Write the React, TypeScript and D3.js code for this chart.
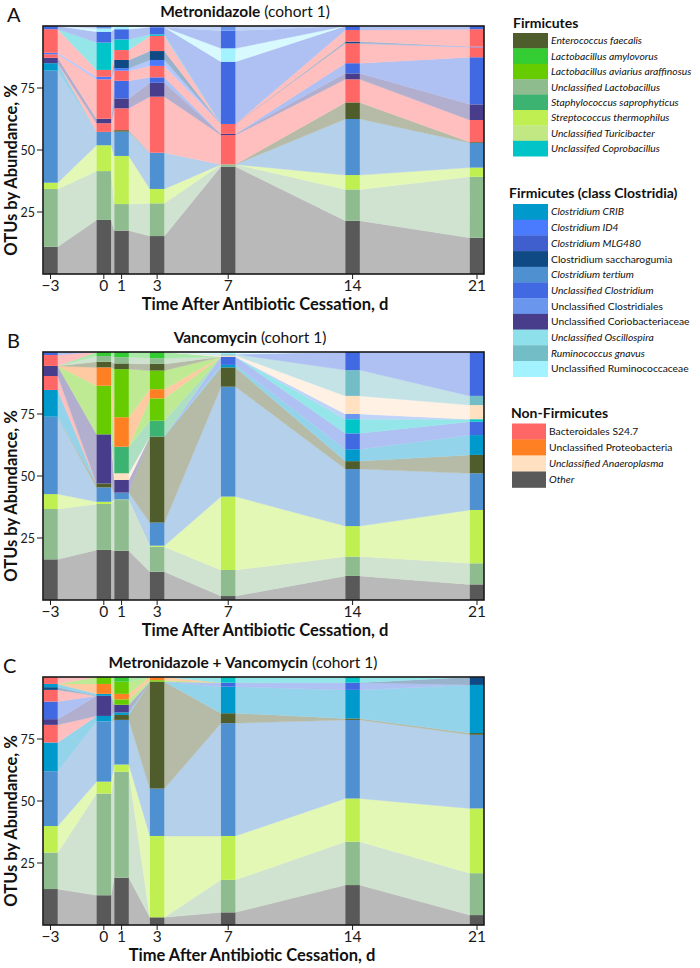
import React from "react";
import * as d3 from "d3";

const days = [-3, 0, 1, 3, 7, 14, 21];

// legend groups (names as printed)
const firmicutes = [
  "Enterococcus faecalis",
  "Lactobacillus amylovorus",
  "Lactobacillus aviarius araffinosus",
  "Unclassified Lactobacillus",
  "Staphylococcus saprophyticus",
  "Streptococcus thermophilus",
  "Unclassified Turicibacter",
  "Unclassifed Coprobacillus",
];
const clostridia = [
  "Clostridium CRIB",
  "Clostridium ID4",
  "Clostridium MLG480",
  "Clostridium saccharogumia",
  "Clostridium tertium",
  "Unclassified Clostridium",
  "Unclassified Clostridiales",
  "Unclassified Coriobacteriaceae",
  "Unclassified Oscillospira",
  "Ruminococcus gnavus",
  "Unclassified Ruminococcaceae",
];
const nonFirmicutes = [
  "Bacteroidales S24.7",
  "Unclassified Proteobacteria",
  "Unclassified Anaeroplasma",
  "Other",
];
const uprightNames = [
  "Clostridium saccharogumia",
  "Unclassified Clostridiales",
  "Unclassified Coriobacteriaceae",
  "Unclassified Ruminococcaceae",
  "Bacteroidales S24.7",
  "Unclassified Proteobacteria",
];

const colorOf: Record<string, string> = {
  "Enterococcus faecalis": "#4e5d2b",
  "Lactobacillus amylovorus": "#33cc33",
  "Lactobacillus aviarius araffinosus": "#66cc00",
  "Unclassified Lactobacillus": "#8fbc8f",
  "Staphylococcus saprophyticus": "#3cb371",
  "Streptococcus thermophilus": "#bfef50",
  "Unclassified Turicibacter": "#c2e884",
  "Unclassifed Coprobacillus": "#00c4c8",
  "Clostridium CRIB": "#0099cc",
  "Clostridium ID4": "#4a7bff",
  "Clostridium MLG480": "#3f5fcf",
  "Clostridium saccharogumia": "#0f4a85",
  "Clostridium tertium": "#4f90d0",
  "Unclassified Clostridium": "#4169e1",
  "Unclassified Clostridiales": "#6a96ee",
  "Unclassified Coriobacteriaceae": "#483d8b",
  "Unclassified Oscillospira": "#8ee0ea",
  "Ruminococcus gnavus": "#72bdc6",
  "Unclassified Ruminococcaceae": "#a2f2ff",
  "Bacteroidales S24.7": "#ff6666",
  "Unclassified Proteobacteria": "#ff8022",
  "Unclassified Anaeroplasma": "#ffe0c0",
  Other: "#595959",
};

type Layer = [string, number[]];

// stacked bottom -> top, % per day (-3,0,1,3,7,14,21); same taxon can be several OTUs
const metroLayers: Layer[] = [
  ["Other", [11, 21.8, 17.5, 15.3, 43.3, 21.5, 14.6]],
  ["Unclassified Lactobacillus", [23.3, 19.7, 10.7, 13.2, 0.9, 12.6, 24.6]],
  ["Streptococcus thermophilus", [2.5, 10.4, 19.4, 5.8, 0, 5.8, 3.7]],
  ["Clostridium tertium", [45.2, 5.4, 9.8, 14.6, 0, 22.6, 10.0]],
  ["Enterococcus faecalis", [0, 0, 0.6, 0, 0, 6.7, 0.3]],
  ["Clostridium CRIB", [3, 0, 0, 0, 0, 0, 0]],
  ["Bacteroidales S24.7", [0, 3.5, 8.8, 22.6, 11.8, 9.3, 8.9]],
  ["Unclassified Coriobacteriaceae", [2.2, 1.8, 4.0, 5.6, 0.5, 2.4, 6.3]],
  ["Unclassified Clostridium", [0, 0, 7.1, 2.2, 0, 4.1, 19.0]],
  ["Bacteroidales S24.7", [1.4, 15.9, 4.1, 4.6, 4.0, 8.0, 4.0]],
  ["Clostridium ID4", [0.6, 1.0, 1.0, 2.4, 0, 0, 0.3]],
  ["Clostridium saccharogumia", [0, 0, 3.3, 3.6, 0, 0.7, 0]],
  ["Bacteroidales S24.7", [9.5, 2.8, 4.0, 6.1, 0, 4.7, 7.0]],
  ["Unclassifed Coprobacillus", [0, 11.0, 4.3, 0.6, 0, 0, 0]],
  ["Unclassified Clostridium", [1.3, 4.4, 4.1, 2.9, 25.1, 1.6, 1.3]],
  ["Unclassified Ruminococcaceae", [0, 1.3, 1.3, 0, 5.4, 0, 0]],
  ["Unclassified Clostridium", [0, 0, 0, 0, 7.1, 0, 0]],
  ["Unclassified Clostridiales", [0, 1.0, 0, 0.5, 1.9, 0, 0]],
];

const vancoLayers: Layer[] = [
  ["Other", [16.4, 20.2, 19.9, 11.4, 1.6, 9.7, 6.3]],
  ["Unclassified Lactobacillus", [20.3, 18.5, 20.4, 10.1, 10.5, 7.8, 8.5]],
  ["Streptococcus thermophilus", [6.0, 0.9, 0.2, 0.4, 29.6, 12.3, 21.5]],
  ["Clostridium tertium", [31.2, 5.8, 2.8, 9.3, 44.3, 23.0, 14.8]],
  ["Enterococcus faecalis", [0, 1.6, 0, 34.7, 7.8, 3.2, 7.4]],
  ["Clostridium CRIB", [10.8, 0, 0, 0, 1.0, 4.8, 8.0]],
  ["Unclassified Clostridium", [0, 0, 0, 0, 3.3, 6.4, 5.4]],
  ["Bacteroidales S24.7", [5.6, 0, 0, 0, 0, 0, 0]],
  ["Unclassified Coriobacteriaceae", [4.1, 19.8, 5.1, 0, 0, 0, 0]],
  ["Unclassified Anaeroplasma", [0, 0, 2.7, 0, 0, 0, 0]],
  ["Staphylococcus saprophyticus", [0, 0, 10.7, 6.4, 0, 0, 0]],
  ["Lactobacillus aviarius araffinosus", [0, 19.6, 0, 9.0, 0, 0, 0]],
  ["Unclassified Proteobacteria", [0, 7.4, 11.9, 3.7, 0, 0, 0]],
  ["Lactobacillus aviarius araffinosus", [0, 0, 19.4, 7.5, 0, 0, 0]],
  ["Enterococcus faecalis", [0, 2.3, 2.3, 2.7, 0, 0, 0]],
  ["Unclassified Lactobacillus", [0, 2.3, 2.5, 2.3, 0, 0, 0]],
  ["Lactobacillus amylovorus", [0, 1.6, 2.1, 2.5, 0, 0, 0]],
  ["Unclassifed Coprobacillus", [0, 0, 0, 0, 0, 5.7, 1.0]],
  ["Unclassified Clostridiales", [0, 0, 0, 0, 0, 2.1, 0]],
  ["Unclassified Anaeroplasma", [0, 0, 0, 0, 0.5, 7.3, 5.7]],
  ["Ruminococcus gnavus", [0, 0, 0, 0, 0.5, 10.4, 3.7]],
  ["Bacteroidales S24.7", [4.4, 0, 0, 0, 0, 0, 0]],
  ["Unclassified Clostridium", [1.2, 0, 0, 0, 0, 7.3, 17.7]],
  ["Unclassified Ruminococcaceae", [0, 0, 0, 0, 0.9, 0, 0]],
];

const comboLayers: Layer[] = [
  ["Other", [14.5, 12.0, 19.1, 3.1, 5.1, 16.1, 4.0]],
  ["Unclassified Lactobacillus", [14.7, 41.0, 42.7, 0, 13.1, 17.5, 16.9]],
  ["Streptococcus thermophilus", [10.7, 4.8, 2.9, 32.8, 17.7, 17.4, 26.1]],
  ["Clostridium tertium", [22.1, 24.3, 18.0, 19.1, 45.5, 31.7, 29.7]],
  ["Enterococcus faecalis", [0, 0, 2.0, 43.1, 4.0, 0.6, 0.7]],
  ["Clostridium CRIB", [11.6, 2.2, 1.0, 0, 10.7, 11.5, 19.4]],
  ["Bacteroidales S24.7", [7.1, 0, 0, 0, 0, 0, 0]],
  ["Unclassified Coriobacteriaceae", [2.3, 8.1, 3.1, 0, 0, 0, 0]],
  ["Unclassified Clostridium", [7.1, 0, 0, 0, 1.6, 2.9, 0]],
  ["Bacteroidales S24.7", [4.7, 0, 0, 0, 0, 0, 0]],
  ["Clostridium saccharogumia", [1.1, 0, 0, 0, 0, 0, 3.2]],
  ["Clostridium CRIB", [1.3, 0.8, 0, 0, 0, 0, 0]],
  ["Lactobacillus aviarius araffinosus", [0, 0, 2.2, 0.6, 0, 0, 0]],
  ["Unclassified Proteobacteria", [0, 4.0, 2.2, 1.3, 0, 0, 0]],
  ["Lactobacillus aviarius araffinosus", [0, 2.8, 4.9, 0, 0, 0, 0]],
  ["Lactobacillus amylovorus", [0, 0, 1.9, 0, 0, 0, 0]],
  ["Unclassifed Coprobacillus", [0, 0, 0, 0, 2.3, 2.3, 0]],
  ["Bacteroidales S24.7", [2.8, 0, 0, 0, 0, 0, 0]],
];

const FONT = "Lato, 'Open Sans', sans-serif";
const plotLeft = 43;
const plotRight = 484;
const plotH = 248;
const barW = 14.5;

type PanelProps = {
  id: string;
  layers: Layer[];
  top: number;
  letter: string;
  letterX: number;
  titleBold: string;
  titleX: number;
  xLabelX: number;
};

function Panel({ id, layers, top, letter, letterX, titleBold, titleX, xLabelX }: PanelProps) {
  const bottom = top + plotH;
  const x = d3.scaleLinear().domain([-3, 21]).range([50.5, 477]);
  const y = d3.scaleLinear().domain([0, 100]).range([bottom, top]);
  const keys = layers.map((_, j) => "k" + j);
  const table = days.map((d, i) => {
    const row: Record<string, number> = { day: d };
    layers.forEach((l, j) => (row["k" + j] = l[1][i]));
    return row;
  });
  const series = d3.stack<Record<string, number>>().keys(keys)(table);
  const band = d3
    .area<{ x: number; y0: number; y1: number }>()
    .x((p) => p.x)
    .y0((p) => y(p.y0))
    .y1((p) => y(p.y1));
  const fmt = d3.format("d");
  const pale = (c: string) => d3.interpolateRgb("#ffffff", c)(0.42);

  return (
    <g>
      <defs>
        <clipPath id={"clip-" + id}>
          <rect x={plotLeft} y={top} width={plotRight - plotLeft} height={plotH} />
        </clipPath>
      </defs>
      <g clipPath={`url(#clip-${id})`}>
        <rect x={plotLeft} y={top} width={plotRight - plotLeft} height={plotH} fill="#fff" />
        {series.map((s, j) => {
          const c = pale(colorOf[layers[j][0]]);
          return days.slice(0, -1).map((d, i) => {
            const a = s[i];
            const b = s[i + 1];
            if (a[1] - a[0] <= 0 && b[1] - b[0] <= 0) return null;
            const pts = [
              { x: x(d) + barW / 2, y0: a[0], y1: a[1] },
              { x: x(days[i + 1]) - barW / 2, y0: b[0], y1: b[1] },
            ];
            return <path key={`b${j}-${i}`} d={band(pts) || ""} fill={c} stroke={c} strokeWidth={0.4} />;
          });
        })}
        {series.map((s, j) =>
          s.map((v, i) =>
            v[1] - v[0] > 0 ? (
              <rect
                key={`r${j}-${i}`}
                x={x(days[i]) - barW / 2}
                y={y(v[1])}
                width={barW}
                height={y(v[0]) - y(v[1])}
                fill={colorOf[layers[j][0]]}
              />
            ) : null
          )
        )}
      </g>
      <rect
        x={plotLeft}
        y={top}
        width={plotRight - plotLeft}
        height={plotH}
        fill="none"
        stroke="#1a1a1a"
        strokeWidth={1.6}
      />
      {[25, 50, 75].map((t) => (
        <g key={t}>
          <line x1={plotLeft - 6} x2={plotLeft} y1={y(t)} y2={y(t)} stroke="#1a1a1a" strokeWidth={1} />
          <text x={plotLeft - 8} y={y(t) + 4.5} fontSize={12.5} textAnchor="end" fill="#1a1a1a">
            {t}
          </text>
        </g>
      ))}
      {days.map((d) => (
        <g key={d}>
          <line x1={x(d)} x2={x(d)} y1={bottom} y2={bottom + 5} stroke="#1a1a1a" strokeWidth={1} />
          <text x={x(d)} y={bottom + 17} fontSize={15.5} textAnchor="middle" fill="#1a1a1a">
            {fmt(d)}
          </text>
        </g>
      ))}
      <text x={xLabelX} y={bottom + 36} fontSize={16.5} fontWeight="bold" textAnchor="middle">
        Time After Antibiotic Cessation, d
      </text>
      <text
        transform={`translate(${17},${top + 144}) rotate(-90)`}
        fontSize={16.5}
        fontWeight="bold"
        textAnchor="middle"
      >
        OTUs by Abundance, %
      </text>
      <text x={titleX} y={top - 9} fontSize={15.5} textAnchor="middle">
        <tspan fontWeight="bold">{titleBold}</tspan>
        <tspan> (cohort 1)</tspan>
      </text>
      <text x={letterX} y={top - 4} fontSize={20}>
        {letter}
      </text>
    </g>
  );
}

function LegendGroup({
  title,
  names,
  titleX,
  titleY,
  startY,
  step,
  swX,
  swW,
}: {
  title: string;
  names: string[];
  titleX: number;
  titleY: number;
  startY: number;
  step: number;
  swX: number;
  swW: number;
}) {
  return (
    <g>
      <text x={titleX} y={titleY} fontSize={14} fontWeight="bold">
        {title}
      </text>
      {names.map((n, i) => (
        <g key={n}>
          <rect x={swX} y={startY + i * step} width={swW} height={step + 0.3} fill={colorOf[n]} />
          <text
            x={swX + swW + 3}
            y={startY + i * step + step / 2 + 3.6}
            fontSize={10.3}
            fontStyle={uprightNames.includes(n) ? "normal" : "italic"}
          >
            {n}
          </text>
        </g>
      ))}
    </g>
  );
}

export default function App() {
  return (
    <svg
      width={700}
      height={968}
      style={{ position: "absolute", left: 0, top: 0, background: "#fff" }}
      fontFamily={FONT}
      fill="#111"
    >
      <Panel
        id="a"
        layers={metroLayers}
        top={26}
        letter="A"
        letterX={7}
        titleBold="Metronidazole"
        titleX={245}
        xLabelX={265}
      />
      <Panel
        id="b"
        layers={vancoLayers}
        top={352}
        letter="B"
        letterX={7}
        titleBold="Vancomycin"
        titleX={250}
        xLabelX={265}
      />
      <Panel
        id="c"
        layers={comboLayers}
        top={677}
        letter="C"
        letterX={3}
        titleBold="Metronidazole + Vancomycin"
        titleX={243}
        xLabelX={252}
      />
      <LegendGroup
        title="Firmicutes"
        names={firmicutes}
        titleX={513}
        titleY={28}
        startY={33}
        step={15.4}
        swX={513}
        swW={35}
      />
      <LegendGroup
        title="Firmicutes (class Clostridia)"
        names={clostridia}
        titleX={509}
        titleY={198}
        startY={204}
        step={15.7}
        swX={513}
        swW={35}
      />
      <LegendGroup
        title="Non-Firmicutes"
        names={nonFirmicutes}
        titleX={511}
        titleY={418}
        startY={423.5}
        step={16}
        swX={512}
        swW={34}
      />
    </svg>
  );
}
